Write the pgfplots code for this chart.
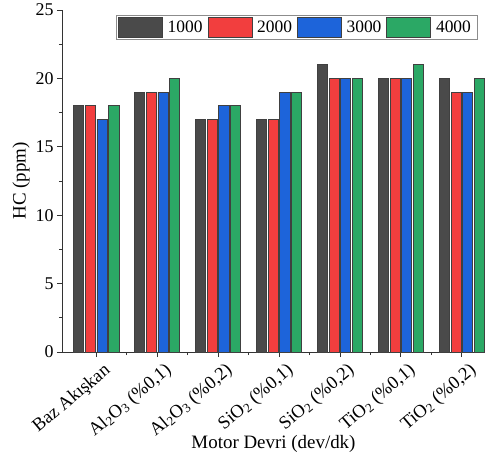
\documentclass[border=0pt]{standalone}
\usepackage{fontspec}
\setmainfont{Liberation Serif}
\usepackage{pgfplots}
\pgfplotsset{compat=1.18}
\definecolor{cA}{HTML}{4A4A4A}
\definecolor{cB}{HTML}{F23E3E}
\definecolor{cC}{HTML}{1D64DA}
\definecolor{cD}{HTML}{2BA865}
\begin{document}
\begin{tikzpicture}
\path[use as bounding box] (-62bp,-111bp) rectangle (426bp,352bp);
\begin{axis}[
  scale only axis, width=423bp, height=342bp,
  xmin=-0.56, xmax=6.38, ymin=0, ymax=25,
  axis lines*=left,
  axis line style={black!80, line width=0.8pt},
  tick align=outside,
  major tick length=5bp, minor tick length=3bp,
  tick style={black!80, line width=0.8pt},
  ytick={0,5,10,15,20,25}, minor ytick={2.5,7.5,12.5,17.5,22.5},
  xtick={0,1,2,3,4,5,6}, minor xtick={0.5,1.5,2.5,3.5,4.5,5.5},
  xticklabels={{Baz Akışkan}, {Al\textsubscript{2}O\textsubscript{3} (\%0,1)}, {Al\textsubscript{2}O\textsubscript{3} (\%0,2)}, {SiO\textsubscript{2} (\%0,1)}, {SiO\textsubscript{2} (\%0,2)}, {TiO\textsubscript{2} (\%0,1)}, {TiO\textsubscript{2} (\%0,2)}},
  x tick label style={rotate=40, anchor=north east, font=\fontsize{18.5}{20}\selectfont, inner sep=0bp, xshift=2bp, yshift=-8bp},
  y tick label style={font=\fontsize{18}{20}\selectfont},
  /pgf/number format/assume math mode=true,
  ylabel={HC (ppm)}, xlabel={Motor Devri (dev/dk)},
  label style={font=\fontsize{19}{22}\selectfont},
  ylabel style={yshift=-1bp},
  xlabel style={at={(axis description cs:0.5,-0.268)}, anchor=center},
  legend columns=4,
  legend style={at={(0.983,0.985)}, anchor=north east, draw=black!45, line width=0.8pt,
    font=\fontsize{17.5}{20}\selectfont, inner sep=1.5bp,
    nodes={inner xsep=5bp},
    /tikz/every even column/.append style={column sep=0bp}},
  legend image code/.code={\draw[#1] (0bp,-10bp) rectangle (44bp,10bp);},
  every axis plot/.append style={ybar, bar width=0.165, draw=black!75, line width=0.6pt},
]
\addplot[fill=cA, bar shift=-0.29] coordinates {(0,18) (1,19) (2,17) (3,17) (4,21) (5,20) (6,20)};
\addplot[fill=cB, bar shift=-0.095] coordinates {(0,18) (1,19) (2,17) (3,17) (4,20) (5,20) (6,19)};
\addplot[fill=cC, bar shift=0.095] coordinates {(0,17) (1,19) (2,18) (3,19) (4,20) (5,20) (6,19)};
\addplot[fill=cD, bar shift=0.29] coordinates {(0,18) (1,20) (2,18) (3,19) (4,20) (5,21) (6,20)};
\legend{1000,2000,3000,4000}
\end{axis}
\end{tikzpicture}
\end{document}
